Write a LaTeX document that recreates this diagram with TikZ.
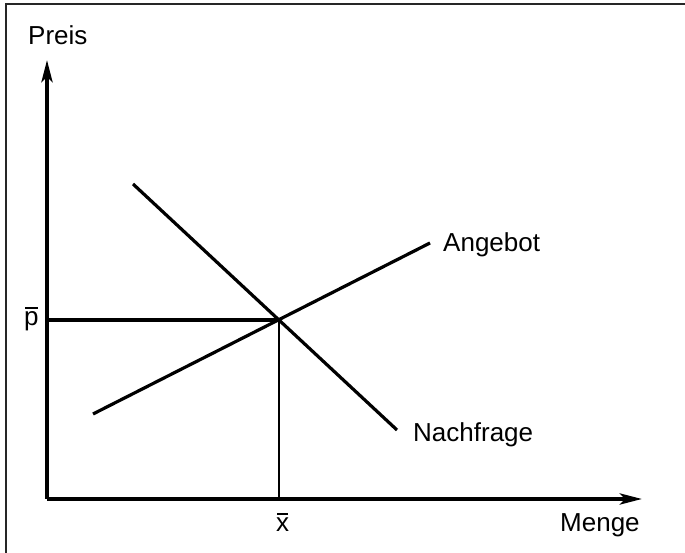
\documentclass[tikz,border=0pt]{standalone}
\usepackage{fontspec}
\setmainfont{Liberation Sans}
\usetikzlibrary{arrows.meta}
\begin{document}
\begin{tikzpicture}[x=1pt,y=1pt,
  axis/.style={line width=3.8pt,-{Stealth[length=22pt,width=11pt,inset=5pt]}},
  curve/.style={line width=3.2pt},
  guide/.style={line width=3.2pt},
  bar/.style={line width=2pt},
  lab/.style={anchor=base west,inner sep=0pt,font=\fontsize{26}{30}\selectfont}]
\useasboundingbox (0,0) rectangle (685,553);
% frame
\draw[line width=1.5pt,black!85] (6,0) -- (6,549) -- (685,549);
% coordinates
\coordinate (O) at (47,54);
\coordinate (ytip) at (47,493);
\coordinate (xtip) at (642,54);
\coordinate (E) at (279,233);
\coordinate (P) at (47,233);
\coordinate (X) at (279,54);
\coordinate (D1) at (133,369);
\coordinate (D2) at (397,123);
\coordinate (S1) at (93,139);
\coordinate (S2) at (430,310);
% axes
\draw[axis] (O) -- (ytip);
\draw[axis] (O) -- (xtip);
% guide lines
\draw[guide] (P) -- (E);
\draw[guide,line width=2.6pt] (E) -- (X);
% curves
\draw[curve] (D1) -- (D2);
\draw[curve] (S1) -- (S2);
% labels
\node[lab] (preis) at (28,508) {Preis};
\node[lab] (menge) at (560,21) {Menge};
\node[lab] (angebot) at (443,301) {Angebot};
\node[lab] (nachfrage) at (413,111) {Nachfrage};
\node[lab] (pbar) at (24,227) {p};
\node[lab] (xbar) at (276,21) {x};
\draw[bar] ([xshift=1pt,yshift=4pt]pbar.north west) -- ([xshift=-1pt,yshift=4pt]pbar.north east);
\draw[bar] ([xshift=1pt,yshift=4pt]xbar.north west) -- ([xshift=-1pt,yshift=4pt]xbar.north east);
\end{tikzpicture}
\end{document}
